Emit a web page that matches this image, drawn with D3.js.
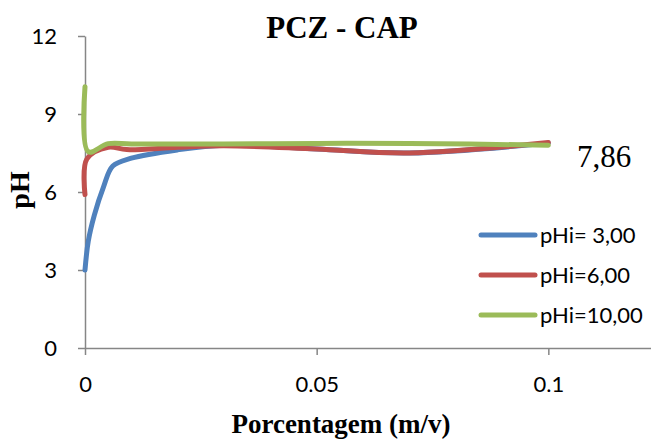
<!DOCTYPE html>
<html>
<head>
<meta charset="utf-8">
<script src="https://cdn.jsdelivr.net/npm/d3@7"></script>
<style>
  html, body { margin: 0; padding: 0; background: #fff; }
  svg { display: block; }
</style>
</head>
<body>
<svg id="chart" width="651" height="441"></svg>
<script>
// ---- data ----
const xTicks = [0, 0.05, 0.1];
const yTicks = [0, 3, 6, 9, 12];
const xTickLabels = ["0", "0.05", "0.1"];

const seriesNames = ["pHi= 3,00", "pHi=6,00", "pHi=10,00"];
const seriesColors = ["#4F81BD", "#C0504D", "#9BBB59"];

const xBlue = [0, 0.0007, 0.002, 0.004, 0.006, 0.01, 0.02, 0.03, 0.05, 0.07, 0.1];
const yBlue = [3.0, 4.1, 5.1, 6.2, 7.0, 7.3, 7.62, 7.8, 7.65, 7.5, 7.88];

const xRed = [0, 0.0004, 0.005, 0.009, 0.02, 0.03, 0.05, 0.07, 0.1];
const yRed = [5.9, 7.27, 7.72, 7.63, 7.72, 7.78, 7.65, 7.5, 7.9];

const xGreen = [0, 0.0007, 0.005, 0.01, 0.03, 0.05, 0.07, 0.1];
const yGreen = [10.05, 7.55, 7.86, 7.85, 7.85, 7.87, 7.87, 7.8];

const titleText = "PCZ - CAP";
const xTitle = "Porcentagem (m/v)";
const yTitle = "pH";
const annotation = "7,86";

(function () {
// ---- layout ----
const svg = d3.select("#chart");
const mLeft = 85, mRight = 641, mTop = 36, mBottom = 348;
const x = d3.scaleLinear().domain([0, 0.12]).range([mLeft, mRight]);
const y = d3.scaleLinear().domain([0, 12]).range([mBottom, mTop]);

const axisColor = "#868686";
const tickFont = "Lato, 'Open Sans', sans-serif";
const serif = "'Liberation Serif', 'Times New Roman', serif";

// y axis
const yAxis = svg.append("g")
  .attr("transform", `translate(${mLeft},0)`)
  .call(d3.axisLeft(y).tickValues(yTicks).tickSize(7).tickPadding(21).tickSizeOuter(0));
// x axis
const xAxis = svg.append("g")
  .attr("transform", `translate(0,${mBottom})`)
  .call(d3.axisBottom(x).tickValues(xTicks).tickFormat((d, i) => xTickLabels[i]).tickSize(7).tickSizeOuter(0));

[yAxis, xAxis].forEach(g => {
  g.select(".domain").attr("stroke", axisColor).attr("stroke-width", 1.5);
  g.selectAll(".tick line").attr("stroke", axisColor).attr("stroke-width", 1.5);
  g.selectAll(".tick text")
    .attr("fill", "#000")
    .style("font-family", tickFont)
    .style("font-size", "22px");
});
yAxis.selectAll(".tick text").attr("dy", "0.36em");
xAxis.selectAll(".tick text").attr("y", 36).attr("dy", "0.36em");
xAxis.select(".domain").attr("d", `M${mLeft},0.5H${mRight + 10}`);

// lines
const seriesX = [xBlue, xRed, xGreen];
const seriesY = [yBlue, yRed, yGreen];
const line = d3.line()
  .x(d => x(d[0]))
  .y(d => y(d[1]))
  .curve(d3.curveCatmullRom.alpha(0.5));

seriesX.forEach((xs, i) => {
  const pts = xs.map((v, j) => [v, seriesY[i][j]]);
  svg.append("path")
    .datum(pts)
    .attr("d", line)
    .attr("fill", "none")
    .attr("stroke", seriesColors[i])
    .attr("stroke-width", 5)
    .attr("stroke-linejoin", "round")
    .attr("stroke-linecap", "round");
});

// title
svg.append("text")
  .attr("x", 342).attr("y", 38)
  .attr("text-anchor", "middle")
  .style("font-family", serif)
  .style("font-weight", "bold")
  .style("font-size", "31px")
  .text(titleText);

// x title
svg.append("text")
  .attr("x", 341).attr("y", 433)
  .attr("text-anchor", "middle")
  .style("font-family", serif)
  .style("font-weight", "bold")
  .style("font-size", "27px")
  .text(xTitle);

// y title
svg.append("text")
  .attr("transform", "translate(29,190) rotate(-90)")
  .attr("text-anchor", "middle")
  .style("font-family", serif)
  .style("font-weight", "bold")
  .style("font-size", "28px")
  .text(yTitle);

// annotation
svg.append("text")
  .attr("x", 577).attr("y", 167)
  .style("font-family", serif)
  .style("font-size", "31px")
  .text(annotation);

// legend
const legendY = [235, 275, 315];
seriesNames.forEach((name, i) => {
  svg.append("line")
    .attr("x1", 481).attr("x2", 535)
    .attr("y1", legendY[i]).attr("y2", legendY[i])
    .attr("stroke", seriesColors[i])
    .attr("stroke-width", 5)
    .attr("stroke-linecap", "round");
  svg.append("text")
    .attr("x", 540).attr("y", legendY[i])
    .attr("dy", "0.36em")
    .style("font-family", tickFont)
    .style("font-size", "22px")
    .text(name);
});
})();
</script>
</body>
</html>
